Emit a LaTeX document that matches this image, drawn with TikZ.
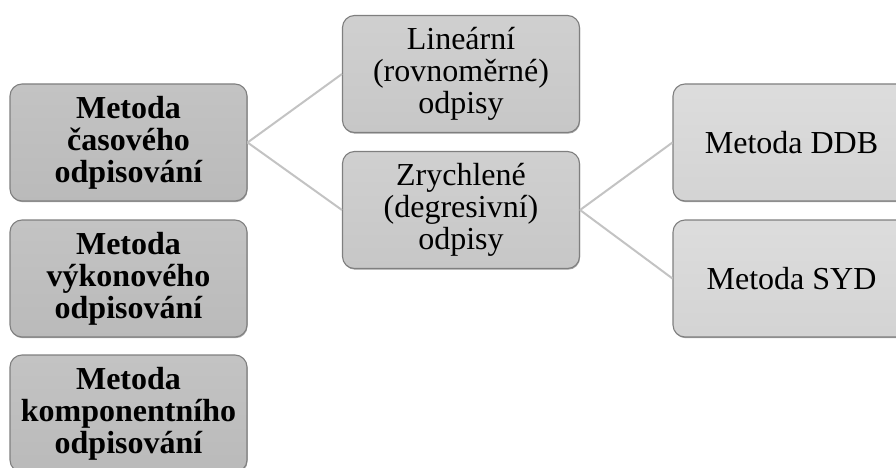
\documentclass[tikz,border=0pt]{standalone}
\usepackage{fontspec}
\setmainfont{Liberation Serif}
\usetikzlibrary{shadows}
\definecolor{edge}{HTML}{7F7F7F}
\definecolor{conn}{HTML}{C3C3C3}
\tikzset{
  box/.style={draw=edge, line width=1.1pt, rounded corners=12pt,
    minimum width=237pt, minimum height=117pt, inner sep=0pt,
    align=center, font=\fontsize{32}{32}\selectfont,
    drop shadow={shadow xshift=0.6pt, shadow yshift=-1.2pt, opacity=0.35, fill=black}},
  lvlone/.style={box, top color=gray!47, bottom color=gray!54, font=\fontsize{32}{32}\selectfont\bfseries},
  lvltwo/.style={box, top color=gray!37, bottom color=gray!44},
  lvlthree/.style={box, top color=gray!27, bottom color=gray!34},
  conline/.style={draw=conn, line width=2pt}
}
\begin{document}
\begin{tikzpicture}[x=1pt,y=-1pt]
\useasboundingbox (0,0) rectangle (896,468);
\clip (0,0) rectangle (896,468);
\node[lvlone] (a) at (128.5,142.5) {Metoda\\časového\\odpisování};
\node[lvlone] (b) at (128.5,278.5) {Metoda\\výkonového\\odpisování};
\node[lvlone] (c) at (128.5,413.5) {Metoda\\komponentního\\odpisování};
\node[lvltwo] (l) at (461,74) {Lineární\\(rovnoměrné)\\odpisy};
\node[lvltwo] (z) at (461,210) {Zrychlené\\(degresivní)\\odpisy};
\node[lvlthree] (d) at (791.5,142.5) {Metoda DDB};
\node[lvlthree] (s) at (791.5,278.5) {Metoda SYD};
\draw[conline] (a.east) -- (l.west);
\draw[conline] (a.east) -- (z.west);
\draw[conline] (z.east) -- (d.west);
\draw[conline] (z.east) -- (s.west);
\end{tikzpicture}
\end{document}
